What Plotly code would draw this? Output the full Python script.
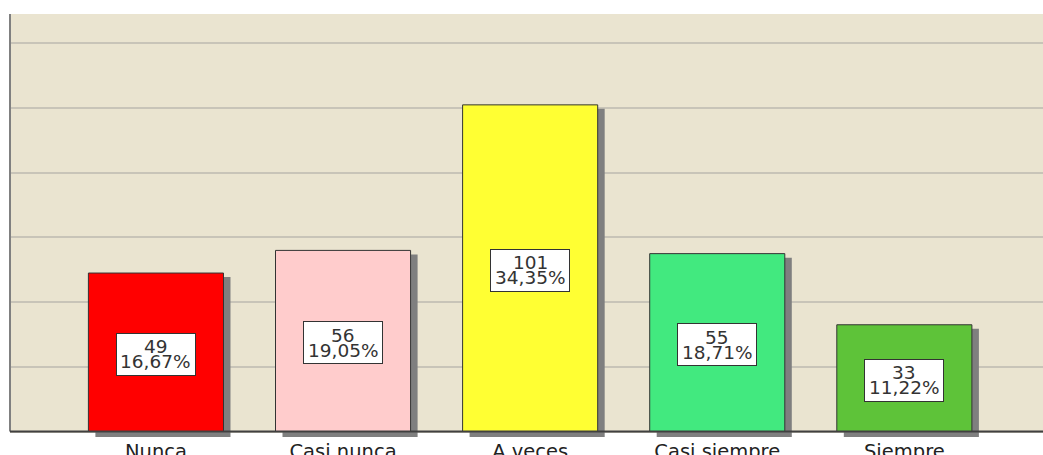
import plotly.graph_objects as go

# ---- data ----
categories = ["Nunca", "Casi nunca", "A veces", "Casi siempre", "Siempre"]
counts = [49, 56, 101, 55, 33]
bar_colors = ["#FF0000", "#FFCCCC", "#FFFF33", "#42E97F", "#5EC339"]

total = sum(counts)
pct_labels = [f"{c / total * 100:.2f}%".replace(".", ",") for c in counts]

# ---- geometry / style ----
W, H = 1043, 455
M_L, M_R, M_T, M_B = 10, 0, 14, 18
Y_MIN, Y_MAX = -1.7, 129.1
X_MIN, X_MAX = -0.780, 4.741
BAR_W = 0.722
PX_X = (W - M_L - M_R) / (X_MAX - X_MIN)
PX_Y = (H - M_T - M_B) / (Y_MAX - Y_MIN)
SH_DX = 7 / PX_X
SH_TOP = 4 / PX_Y
FONT = "DejaVu Sans"
BG = "#EAE4D0"
GRID = "#C8C4B8"

fig = go.Figure()

# shadows
fig.add_trace(go.Bar(
    x=categories,
    y=[c - SH_TOP - Y_MIN for c in counts],
    base=Y_MIN,
    width=BAR_W,
    offset=-BAR_W / 2 + SH_DX,
    marker=dict(color="#7F7F7F", line=dict(width=0)),
    hoverinfo="skip",
))
# bars
fig.add_trace(go.Bar(
    x=categories,
    y=counts,
    width=BAR_W,
    offset=-BAR_W / 2,
    marker=dict(color=bar_colors, line=dict(color="#333333", width=1)),
))

annotations = []
for cat, c, p in zip(categories, counts, pct_labels):
    annotations.append(dict(
        x=cat, y=c / 2, xref="x", yref="y", text=" ", showarrow=False,
        width=78, height=41, bgcolor="white", bordercolor="#333333",
        borderwidth=1, borderpad=0, yshift=-2,
    ))
    annotations.append(dict(
        x=cat, y=c / 2, xref="x", yref="y", text=str(c), showarrow=False,
        font=dict(family=FONT, size=18.5, color="#333333"), yshift=5.5,
    ))
    annotations.append(dict(
        x=cat, y=c / 2, xref="x", yref="y", text=p, showarrow=False,
        font=dict(family=FONT, size=18.5, color="#333333"), yshift=-9.5,
    ))

shapes = [
    # white strip below baseline
    dict(type="rect", xref="paper", x0=0, x1=1, yref="y", y0=Y_MIN, y1=0,
         fillcolor="white", line=dict(width=0), layer="below"),
    # left axis line
    dict(type="line", xref="paper", x0=0, x1=0, yref="y", y0=0, y1=Y_MAX,
         line=dict(color="#808080", width=2), layer="above"),
    # bottom axis line
    dict(type="line", xref="paper", x0=0, x1=1, yref="y", y0=0, y1=0,
         line=dict(color="#404040", width=2), layer="above"),
]

fig.update_layout(
    width=W, height=H,
    margin=dict(l=M_L, r=M_R, t=M_T, b=M_B, autoexpand=False),
    paper_bgcolor="white",
    plot_bgcolor=BG,
    barmode="overlay",
    showlegend=False,
    annotations=annotations,
    shapes=shapes,
    xaxis=dict(
        range=[X_MIN, X_MAX], showgrid=False, zeroline=False, showline=False,
        ticks="", automargin=False,
        tickfont=dict(family=FONT, size=19.5, color="#222222"),
    ),
    yaxis=dict(
        range=[Y_MIN, Y_MAX], showgrid=True, gridcolor=GRID, gridwidth=2,
        tick0=0, dtick=20, showticklabels=False, zeroline=False,
        showline=False, ticks="", automargin=False,
    ),
)

fig.write_html(
    "out.html",
    config={"displayModeBar": False},
    post_script="document.body.style.margin='0';document.body.style.overflow='hidden';",
)
